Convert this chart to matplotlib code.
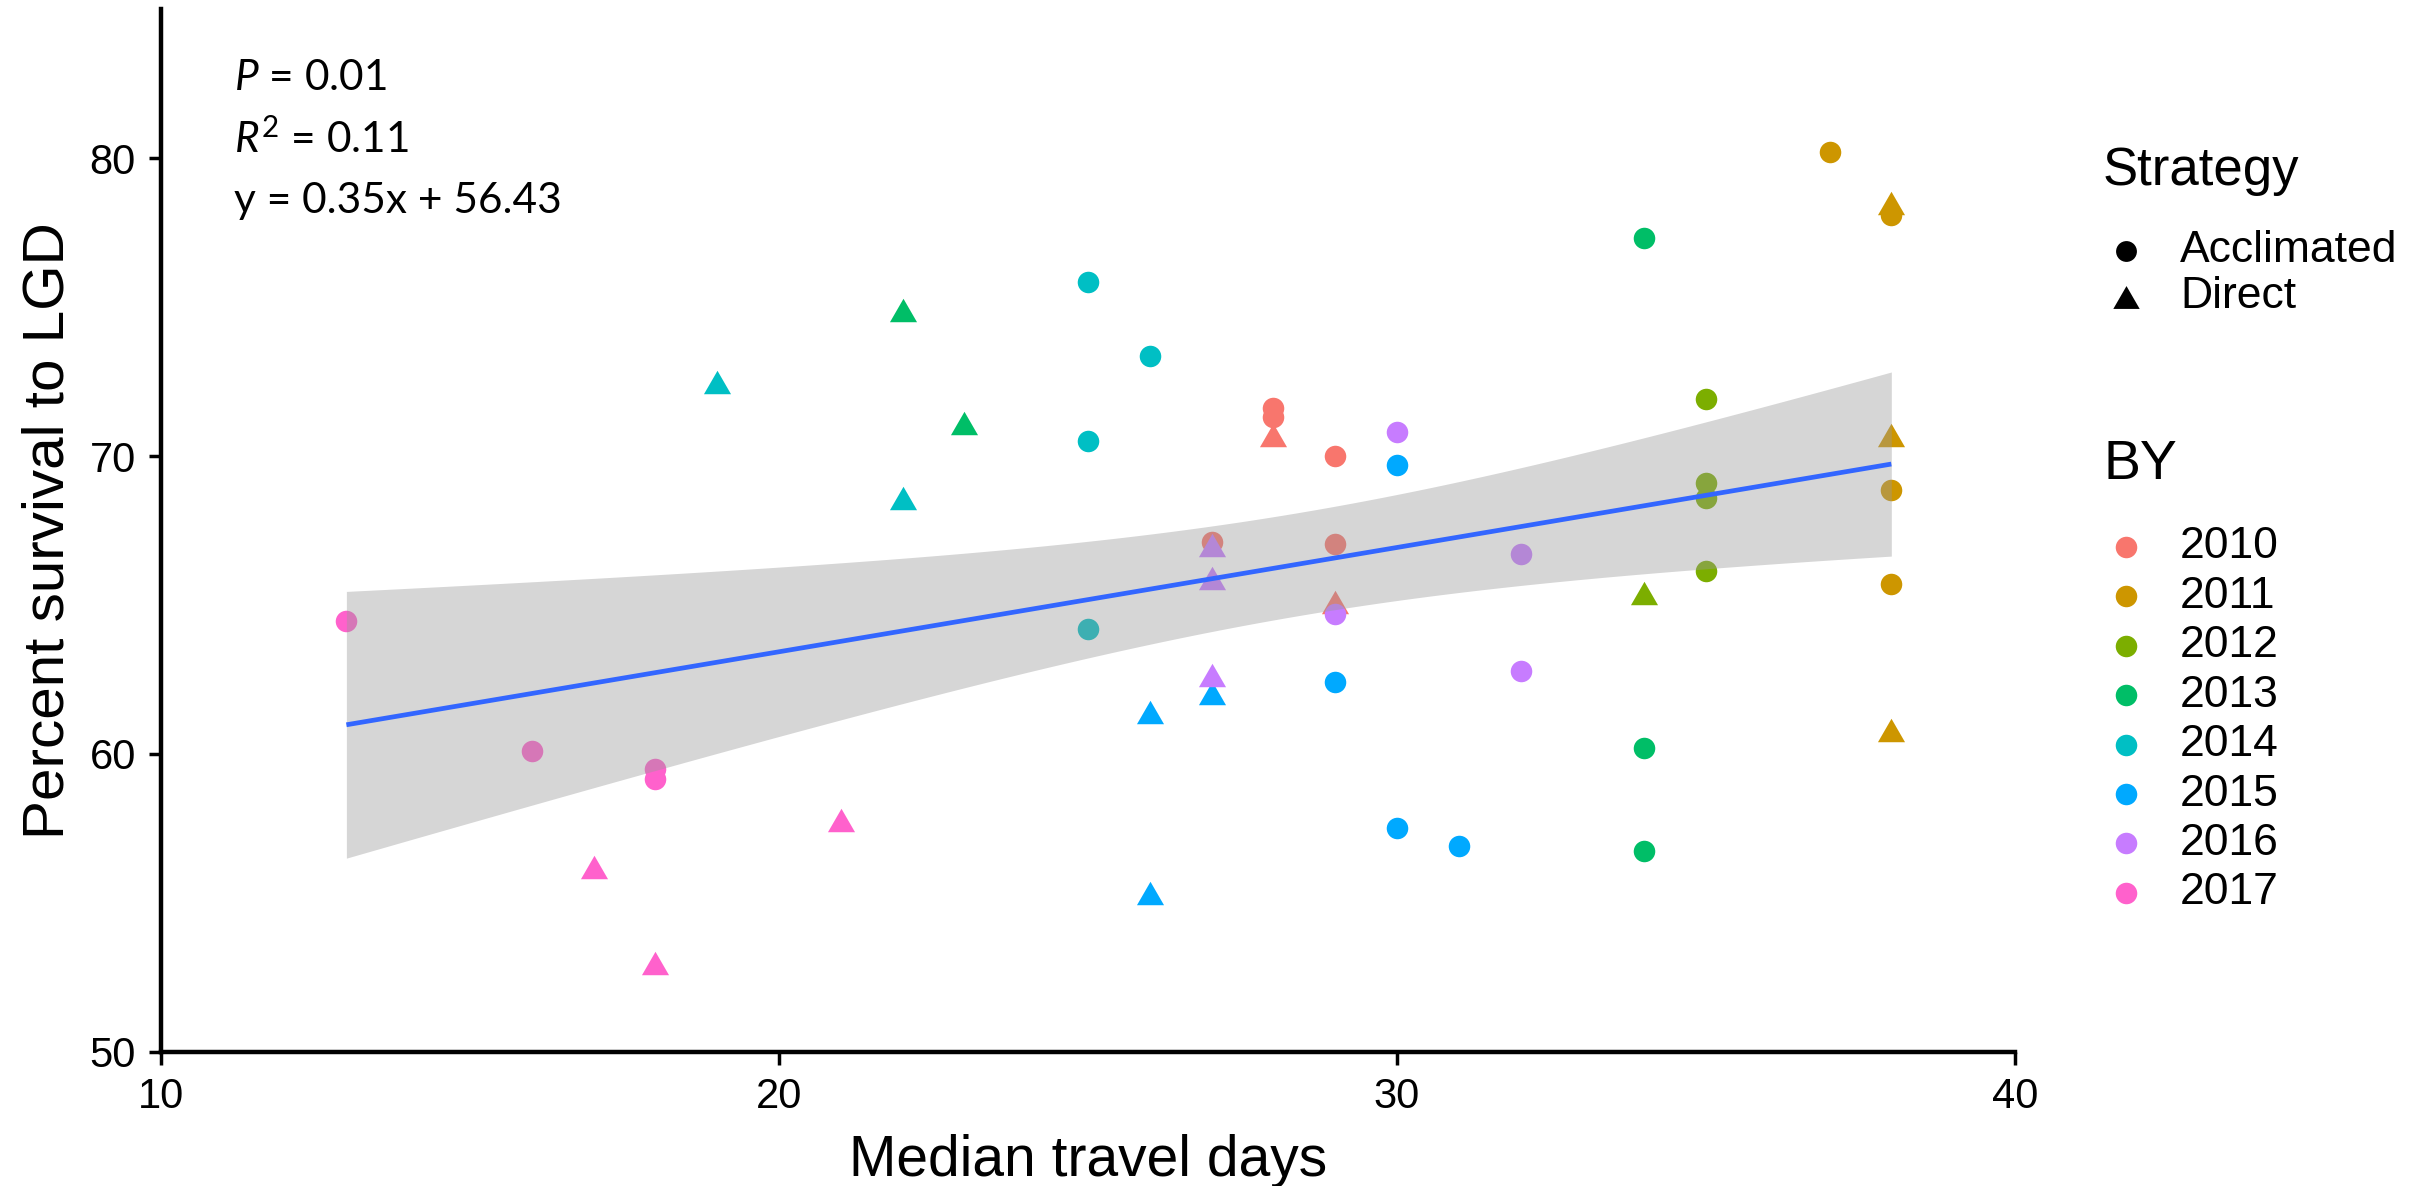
import numpy as np
import matplotlib
matplotlib.use("Agg")
import matplotlib.pyplot as plt
from matplotlib.lines import Line2D

plt.rcParams['font.family'] = ['Liberation Sans', 'DejaVu Sans']
plt.rcParams['mathtext.fontset'] = 'custom'
plt.rcParams['mathtext.rm'] = 'Lato'
plt.rcParams['mathtext.it'] = 'Lato:italic'

# brood year, strategy (A = acclimated, D = direct), median travel days, % survival
years = ["2010", "2011", "2012", "2013", "2014", "2015", "2016", "2017"]
year_colors = ["#F8766D", "#CD9600", "#7CAE00", "#00BE67",
               "#00BFC4", "#00A9FF", "#C77CFF", "#FF61CC"]

by_2010 = [("A", 28, 71.6), ("A", 28, 71.3), ("D", 28, 70.7), ("A", 29, 70.0),
           ("A", 27, 67.1), ("A", 29, 67.05), ("D", 29, 65.1)]
by_2011 = [("A", 37, 80.2), ("D", 38, 78.5), ("A", 38, 78.1), ("D", 38, 70.7),
           ("A", 38, 68.85), ("A", 38, 65.7), ("D", 38, 60.8)]
by_2012 = [("A", 35, 71.9), ("A", 35, 69.1), ("A", 35, 68.6), ("A", 35, 66.15),
           ("D", 34, 65.4)]
by_2013 = [("D", 22, 74.9), ("D", 23, 71.1), ("A", 34, 77.3), ("A", 34, 60.2),
           ("A", 34, 56.75)]
by_2014 = [("D", 19, 72.5), ("D", 22, 68.6), ("A", 25, 75.85), ("A", 26, 73.35),
           ("A", 25, 70.5), ("A", 25, 64.2)]
by_2015 = [("A", 30, 69.7), ("A", 29, 62.4), ("D", 27, 62.05), ("D", 26, 61.4),
           ("A", 30, 57.5), ("A", 31, 56.9), ("D", 26, 55.35)]
by_2016 = [("A", 30, 70.8), ("D", 27, 67.0), ("D", 27, 65.9), ("A", 29, 64.7),
           ("A", 32, 66.7), ("A", 32, 62.8), ("D", 27, 62.65)]
by_2017 = [("A", 13, 64.45), ("A", 16, 60.1), ("A", 18, 59.5), ("A", 18, 59.15),
           ("D", 17, 56.2), ("D", 18, 53.0), ("D", 21, 57.8)]
groups = [by_2010, by_2011, by_2012, by_2013, by_2014, by_2015, by_2016, by_2017]

# fitted model as reported
slope = 0.35
intercept = 56.43
p_value = "0.01"
r2_value = "0.11"
T_975 = 2.0096  # t quantile, 49 df

# equilateral triangle marker
tri = [(-1, -0.866), (1, -0.866), (0, 0.866)]
shape_of = {"A": "o", "D": tri}
size_of = {"A": 15.5, "D": 19.5}

fig = plt.figure(figsize=(24.32, 11.86), dpi=100)
ax = fig.add_axes([0.0662, 0.1130, 0.7623, 0.8794])

all_x, all_y = [], []
for grp, col in zip(groups, year_colors):
    for strat, xv, yv in grp:
        ax.plot(xv, yv, ls="", marker=shape_of[strat], ms=size_of[strat],
                color=col, mec="none", zorder=2)
        all_x.append(xv)
        all_y.append(yv)
all_x = np.array(all_x, dtype=float)
all_y = np.array(all_y, dtype=float)

# confidence band around the regression line
n = len(all_x)
resid = all_y - (intercept + slope * all_x)
s = np.sqrt(np.sum(resid ** 2) / (n - 2))
xbar = all_x.mean()
sxx = np.sum((all_x - xbar) ** 2)
xg = np.linspace(all_x.min(), all_x.max(), 200)
fit = intercept + slope * xg
half = T_975 * s * np.sqrt(1.0 / n + (xg - xbar) ** 2 / sxx)
ax.fill_between(xg, fit - half, fit + half, color="#999999", alpha=0.4,
                lw=0, zorder=3)
ax.plot(xg, fit, color="#3366FF", lw=3.4, zorder=4, solid_capstyle="butt")

ax.set_xlim(10, 40)
ax.set_ylim(50, 85)
ax.set_xticks([10, 20, 30, 40])
ax.set_yticks([50, 60, 70, 80])
for side in ["top", "right"]:
    ax.spines[side].set_visible(False)
for side in ["left", "bottom"]:
    ax.spines[side].set_linewidth(3.2)
ax.tick_params(axis="both", length=9, width=2.5, labelsize=30, pad=9,
               colors="black")
ax.set_xlabel("Median travel days", fontsize=41, labelpad=12)
ax.set_ylabel("Percent survival to LGD", fontsize=42, labelpad=10)

# stats annotation
txt_kw = dict(fontsize=30.5, family="Lato", ha="left", va="baseline",
              transform=fig.transFigure)
fig.text(234 / 2432, 1 - 90 / 1186, r"$P$ = " + p_value, **txt_kw)
fig.text(234 / 2432, 1 - 153 / 1186, r"$R^{\mathrm{2}}$ = " + r2_value, **txt_kw)
fig.text(234 / 2432, 1 - 213 / 1186,
         "y = %.2fx + %.2f" % (slope, intercept), **txt_kw)

# legends, drawn by hand in figure pixels
W, H = 2432, 1186
key_x, lab_x, title_x = 2126, 2180, 2103


def fig_marker(px, py, marker, ms, color):
    fig.add_artist(Line2D([px / W], [1 - py / H], transform=fig.transFigure,
                          ls="", marker=marker, ms=ms, color=color, mec="none"))


fig.text(title_x / W, 1 - 171 / H, "Strategy", fontsize=38, va="center",
         ha="left")
for i, (lab, strat) in enumerate([("Acclimated", "A"), ("Direct", "D")]):
    py = 251 + 46 * i
    fig_marker(key_x, py, shape_of[strat], size_of[strat] - 0.5, "black")
    fig.text(lab_x / W, 1 - py / H, lab, fontsize=32, va="center", ha="left")

fig.text(title_x / W, 1 - 465 / H, "BY", fontsize=40, va="center", ha="left")
for i, (lab, col) in enumerate(zip(years, year_colors)):
    py = 547 + 49.4 * i
    fig_marker(key_x, py, "o", 15.5, col)
    fig.text(lab_x / W, 1 - py / H, lab, fontsize=32, va="center", ha="left")

fig.savefig("out.png", dpi=100, facecolor="white")
